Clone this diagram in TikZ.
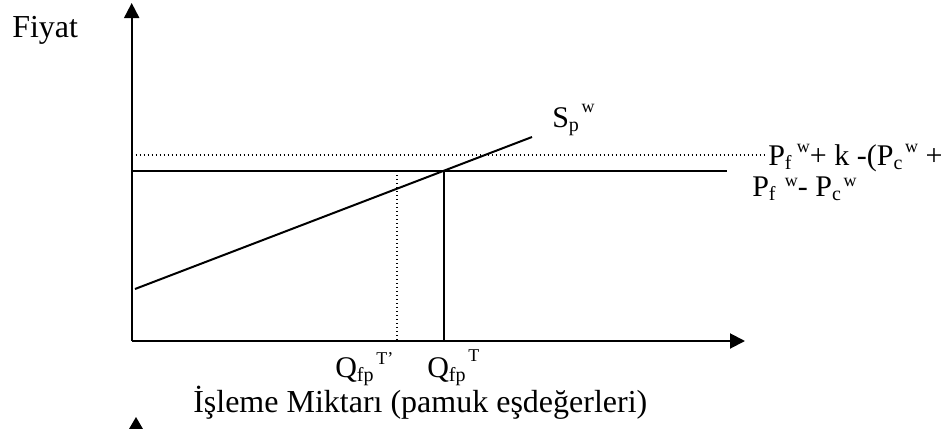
\documentclass[tikz,border=0pt]{standalone}
\usepackage{fontspec}
\setmainfont{Liberation Serif}
\usetikzlibrary{arrows.meta}
\newcommand\mainsz{\fontsize{22.5pt}{27pt}\selectfont}
\newcommand\axsz{\fontsize{24pt}{28pt}\selectfont}
\newcommand\subt[1]{\raisebox{-3pt}{\fontsize{15pt}{18pt}\selectfont #1}}
\newcommand\supt[2]{\raisebox{#1}{\fontsize{13.5pt}{15pt}\selectfont #2}}
\begin{document}
\begin{tikzpicture}[x=0.75pt,y=-0.75pt,
  axis/.style={line width=1.5pt,-{Triangle[width=11.25pt,length=11.25pt]}},
  solidline/.style={line width=1.5pt},
  dotline/.style={line width=1pt,dotted},
  lbl/.style={anchor=base west,inner sep=0pt,font=\mainsz},
  axlbl/.style={anchor=base west,inner sep=0pt,font=\axsz}]
\useasboundingbox (0,0) rectangle (951,429);
% coordinates
\coordinate (O) at (131.7,341);
\coordinate (ytop) at (131.7,3);
\coordinate (xend) at (745,341);
\coordinate (s1) at (135,289);
\coordinate (s2) at (532,137);
\coordinate (h1) at (131.7,171);
\coordinate (h2) at (727,171);
\coordinate (d1) at (131.7,155);
\coordinate (d2) at (767,155);
\coordinate (v1t) at (444,171);
\coordinate (v1b) at (444,341);
\coordinate (v2t) at (397,171);
\coordinate (v2b) at (397,341);
% axes
\draw[axis] (O) -- (ytop);
\draw[axis] (O) -- (xend);
% lines
\draw[dotline] (d1) -- (d2);
\draw[solidline] (h1) -- (h2);
\draw[solidline] (s1) -- (s2);
\draw[solidline] (v1t) -- (v1b);
\draw[dotline] (v2t) -- (v2b);
% stray arrowhead
\fill (136,417) -- (129,429) -- (143,429) -- cycle;
% labels
\node[axlbl] (fiyat) at (12,37) {Fiyat};
\node[axlbl] (xlab) at (193,412) {İşleme Miktarı (pamuk eşdeğerleri)};
\node[lbl] (q1) at (335,377) {Q\subt{fp}\hspace{2pt}\supt{9.75pt}{T’}};
\node[lbl] (q2) at (427,377) {Q\subt{fp}\hspace{2pt}\supt{12pt}{T}};
\node[lbl] (sp) at (552,127) {S\subt{p}\hspace{2pt}\supt{11.25pt}{w}};
\node[lbl] (r1) at (768,165) {P\subt{f}\hspace{4pt}\supt{9.75pt}{w}+ k -(P\subt{c}\hspace{2pt}\supt{9.75pt}{w} +};
\node[lbl] (r2) at (752,196) {P\subt{f}\hspace{7pt}\supt{7.5pt}{w}- P\subt{c}\hspace{2pt}\supt{7.5pt}{w}};
\end{tikzpicture}
\end{document}
